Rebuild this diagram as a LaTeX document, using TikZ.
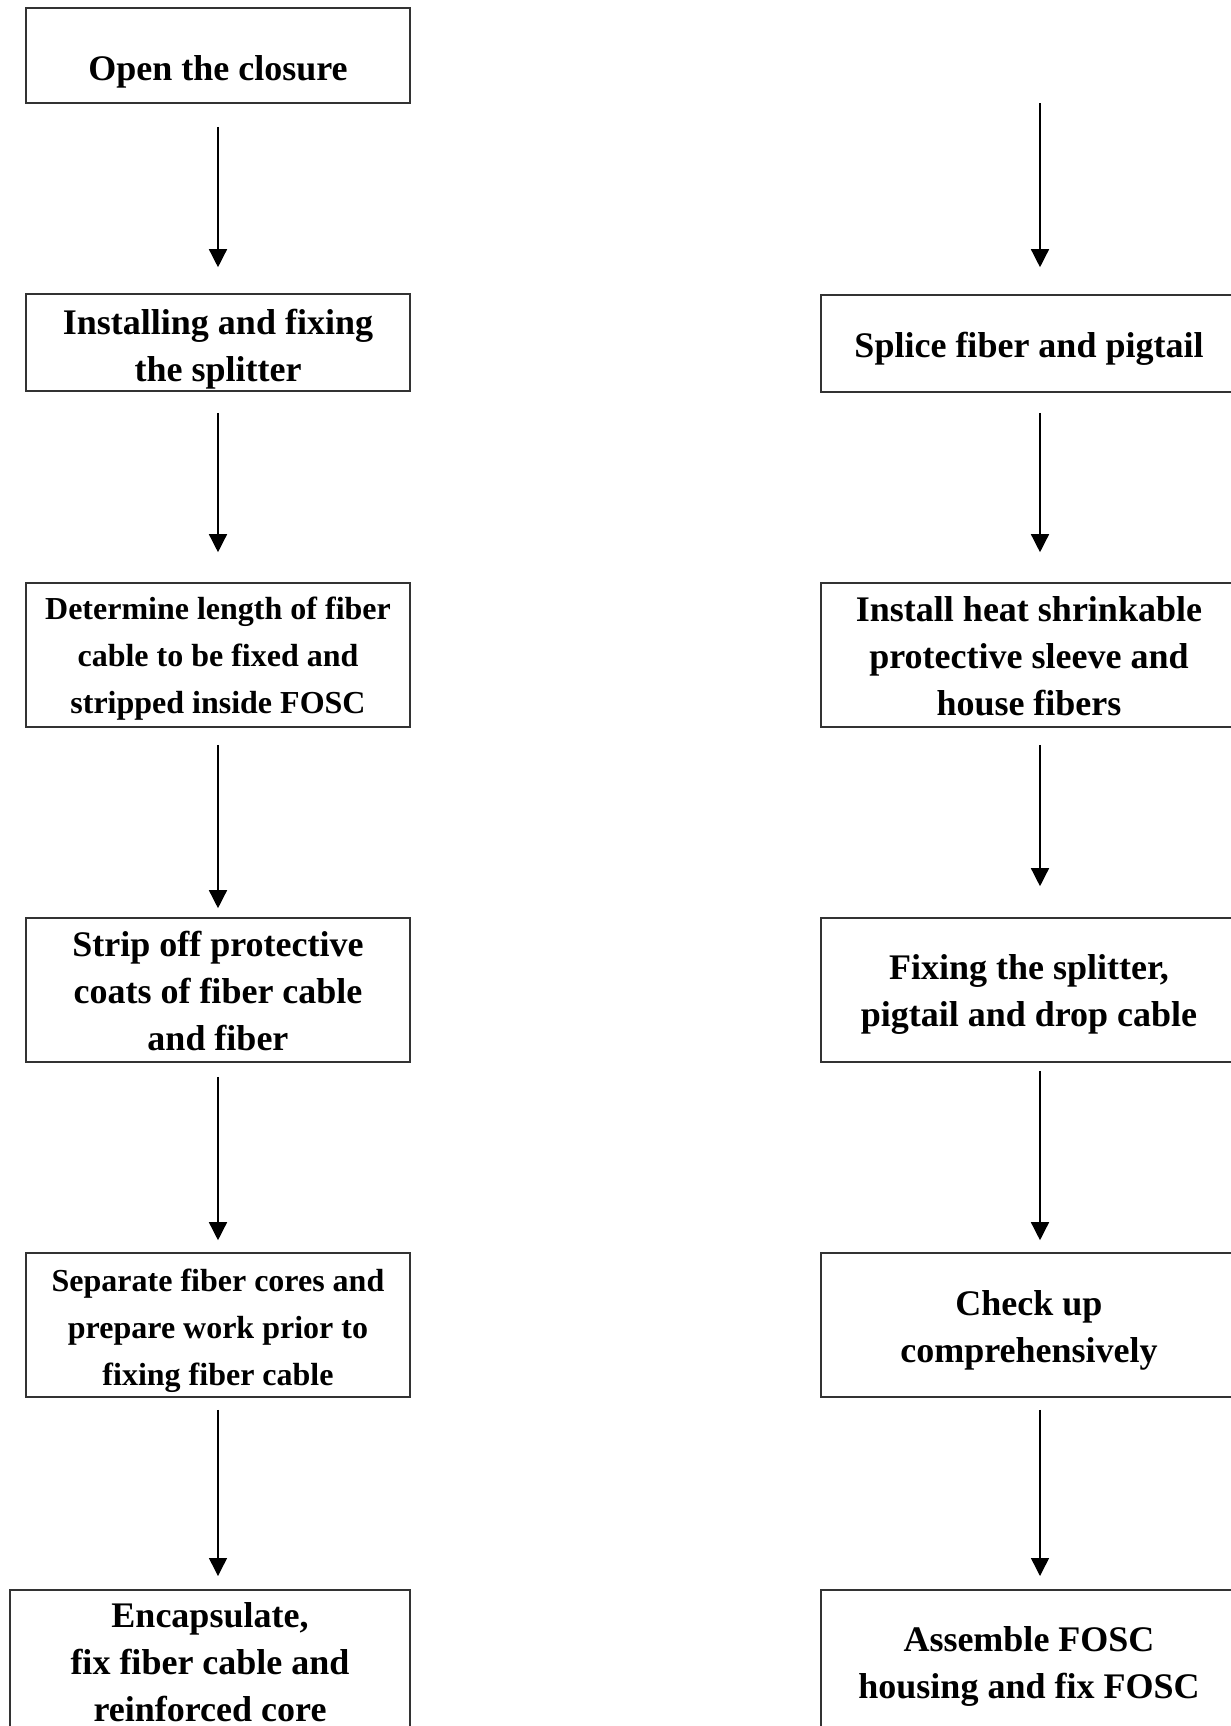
\documentclass[tikz,border=0pt]{standalone}
\usepackage{fontspec}
\setmainfont{Liberation Serif}
\usetikzlibrary{arrows.meta}

\begin{document}
\begin{tikzpicture}[x=0.5pt, y=-0.5pt]
        % Common styles
        \tikzset{
            stepbox/.style={draw=black!80, line width=0.8pt, inner sep=0pt, align=center,
                font=\fontsize{18}{23.5}\selectfont\bfseries},
            smalltext/.style={font=\fontsize{16}{23.5}\selectfont\bfseries},
            leftbox/.style={stepbox, minimum width=192pt},
            rightbox/.style={stepbox, minimum width=208pt},
            flow/.style={-{Triangle[length=9pt, width=9pt]}, line width=0.7pt, black}
        }
        \useasboundingbox (0,0) rectangle (1231,1726);

        % --- Left column ---
        \node[leftbox, text height=28.5pt, minimum height=47.5pt] (open) at (218,55.5) {Open the closure};
        \node[leftbox, text height=42.4pt, minimum height=48.5pt] (install) at (218,342.5) {Installing and fixing\\the splitter};
        \node[leftbox, smalltext, text height=61.5pt, minimum height=72pt] (length) at (218,655) {Determine length of fiber\\cable to be fixed and\\stripped inside FOSC};
        \node[leftbox, text height=60.3pt, minimum height=72pt] (strip) at (218,990) {Strip off protective\\coats of fiber cable\\and fiber};
        \node[leftbox, smalltext, text height=63.6pt, minimum height=72pt] (separate) at (218,1325) {Separate fiber cores and\\prepare work prior to\\fixing fiber cable};
        \node[stepbox, minimum width=200pt, minimum height=72pt, anchor=north] (encap) at (210,1589) {Encapsulate,\\fix fiber cable and\\reinforced core};

        % --- Right column ---
        \coordinate (top) at (1040,103);
        \node[rightbox, text height=17.8pt, minimum height=48.5pt] (splice) at (1029,343.5) {Splice fiber and pigtail};
        \node[rightbox, text height=60.3pt, minimum height=72pt] (sleeve) at (1029,655) {Install heat shrinkable\\protective sleeve and\\house fibers};
        \node[rightbox, text height=40.2pt, minimum height=72pt] (fixing) at (1029,990) {Fixing the splitter,\\pigtail and drop cable};
        \node[rightbox, text height=41.3pt, minimum height=72pt] (check) at (1029,1325) {Check up\\comprehensively};
        \node[rightbox, minimum height=76.5pt, anchor=north] (assemble) at (1029,1589) {Assemble FOSC\\housing and fix FOSC};

        % Arrows (left)
        \draw[flow, shorten <=11.5pt, shorten >=13pt] (open) -- (install);
        \draw[flow, shorten <=10.5pt, shorten >=15pt] (install) -- (length);
        \draw[flow, shorten <=8.5pt, shorten >=4.5pt] (length) -- (strip);
        \draw[flow, shorten <=7pt, shorten >=6pt] (strip) -- (separate);
        \draw[flow, shorten <=6pt, shorten >=6.5pt] (separate.south) -- (separate.south |- encap.north);

        % Arrows (right)
        \draw[flow, shorten >=13.5pt] (top) -- (top |- splice.north);
        \draw[flow, shorten <=10pt, shorten >=15pt] ([xshift=5.5pt]splice.south) -- ([xshift=5.5pt]sleeve.north);
        \draw[flow, shorten <=8.5pt, shorten >=15.5pt] ([xshift=5.5pt]sleeve.south) -- ([xshift=5.5pt]fixing.north);
        \draw[flow, shorten <=4pt, shorten >=6pt] ([xshift=5.5pt]fixing.south) -- ([xshift=5.5pt]check.north);
        \draw[flow, shorten <=6pt, shorten >=6.5pt] ([xshift=5.5pt]check.south) -- ([xshift=5.5pt]assemble.north);

    \end{tikzpicture}
\end{document}
